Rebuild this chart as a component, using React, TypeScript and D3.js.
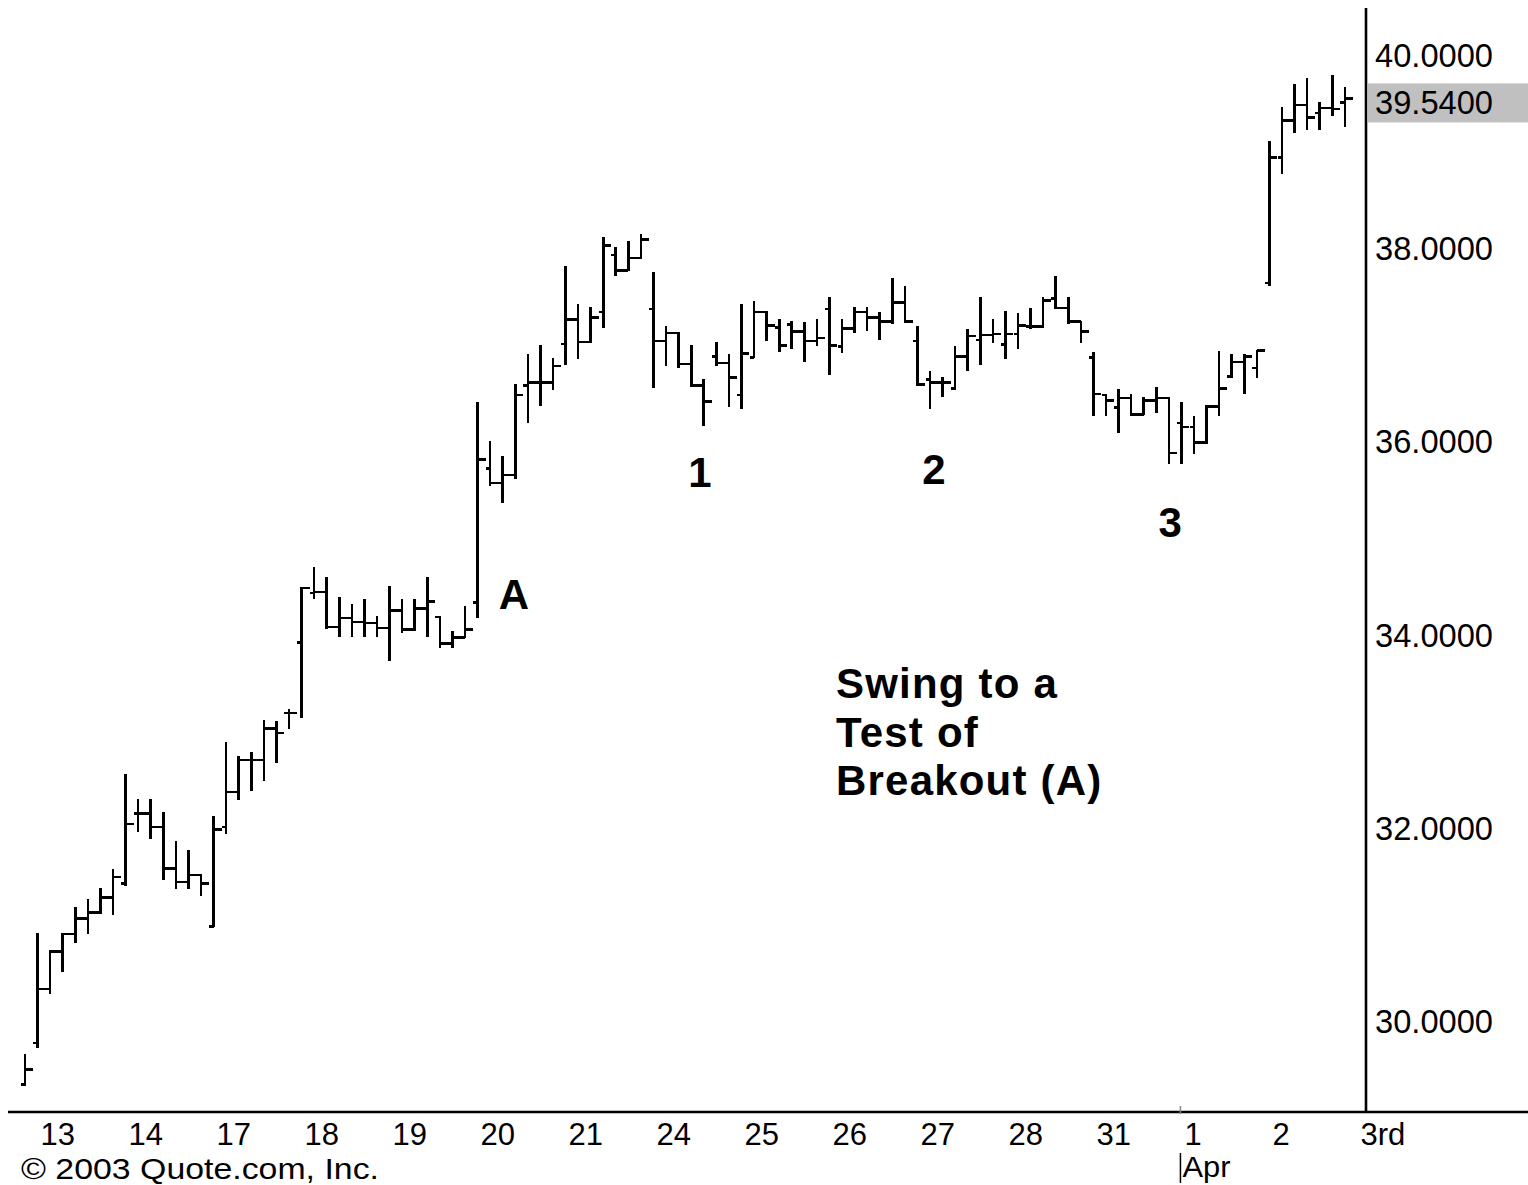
import React from "react";
import * as d3 from "d3";

// Hourly OHLC bars (prices)
const opens = [
  29.33, 29.76, 30.32, 30.71, 30.89, 31.05, 31.11, 31.27, 31.41, 32.14, 32.14, 32.0, 31.57, 31.43, 31.5,
  30.97, 32.0, 32.36, 32.69, 32.69, 33.02, 33.18, 33.91, 34.42, 34.43, 34.07, 34.16, 34.12, 34.11,
  34.06, 34.24, 34.04, 34.26, 34.17, 33.9, 33.96, 34.32, 35.71, 35.56, 35.64, 36.57, 36.6, 36.6,
  37.0, 37.25, 37.02, 37.33, 37.92, 37.76, 37.89, 37.36, 37.03, 37.11, 36.79, 36.57, 36.87, 36.8,
  36.47, 36.86, 37.33, 37.17, 37.2, 37.13, 37.03, 37.36, 36.97, 37.16, 37.33, 37.27, 37.23, 37.43,
  37.03, 36.63, 36.6, 36.54, 36.87, 37.04, 37.09, 36.99, 37.1, 37.18, 37.18, 37.47, 37.37, 37.23,
  36.86, 36.47, 36.34, 36.44, 36.27, 36.41, 36.44, 36.18, 36.14, 35.98, 36.35, 36.66, 36.81, 36.75,
  37.63, 38.93, 39.31, 39.47, 39.39, 39.44, 39.5,
];
const highs = [
  29.64, 30.89, 30.71, 30.89, 31.16, 31.24, 31.36, 31.55, 32.54, 32.28, 32.28, 32.14, 31.84, 31.75, 31.5,
  32.1, 32.87, 32.72, 32.76, 33.1, 33.09, 33.21, 34.47, 34.68, 34.58, 34.37, 34.3, 34.35, 34.17,
  34.48, 34.35, 34.35, 34.58, 34.17, 34.02, 34.28, 36.39, 35.98, 35.83, 36.57, 36.88, 36.98, 36.84,
  37.8, 37.4, 37.37, 38.1, 37.99, 38.05, 38.13, 37.73, 37.17, 37.11, 36.98, 36.63, 37.01, 36.88,
  37.4, 37.43, 37.33, 37.25, 37.23, 37.22, 37.25, 37.47, 37.25, 37.37, 37.37, 37.32, 37.67, 37.59,
  37.17, 36.71, 36.65, 36.97, 37.14, 37.47, 37.25, 37.33, 37.31, 37.36, 37.47, 37.69, 37.47, 37.23,
  36.9, 36.47, 36.52, 36.47, 36.44, 36.54, 36.44, 36.39, 36.24, 36.36, 36.91, 36.88, 36.88, 36.93,
  39.09, 39.44, 39.68, 39.74, 39.49, 39.77, 39.65,
];
const lows = [
  29.33, 29.72, 30.28, 30.51, 30.81, 30.9, 31.11, 31.1, 31.4, 31.96, 31.88, 31.46, 31.37, 31.37, 31.29,
  30.97, 31.94, 32.29, 32.38, 32.48, 32.67, 33.02, 33.14, 34.37, 34.06, 33.97, 33.97, 33.97, 33.98,
  33.73, 34.02, 34.04, 33.97, 33.86, 33.86, 33.96, 34.17, 35.54, 35.36, 35.61, 36.19, 36.37, 36.53,
  36.79, 36.85, 37.02, 37.17, 37.71, 37.76, 37.89, 36.55, 36.78, 36.76, 36.56, 36.16, 36.78, 36.36,
  36.34, 36.86, 37.04, 36.93, 36.96, 36.82, 36.99, 36.69, 36.92, 37.12, 37.14, 37.05, 37.22, 37.23,
  36.57, 36.34, 36.46, 36.53, 36.73, 36.79, 37.02, 36.85, 36.96, 37.16, 37.17, 37.37, 37.22, 37.02,
  36.26, 36.26, 36.09, 36.26, 36.27, 36.29, 35.77, 35.77, 35.87, 35.97, 36.26, 36.66, 36.49, 36.66,
  37.61, 38.77, 39.19, 39.22, 39.22, 39.37, 39.25,
];
const closes = [
  29.49, 30.32, 30.71, 30.89, 31.05, 31.11, 31.27, 31.48, 32.03, 32.14, 32.0, 31.57, 31.43, 31.5, 31.41,
  31.97, 32.36, 32.69, 32.69, 33.02, 32.97, 33.18, 34.47, 34.43, 34.07, 34.16, 34.12, 34.11, 34.06,
  34.24, 34.04, 34.26, 34.33, 33.9, 33.96, 34.04, 35.8, 35.56, 35.64, 36.47, 36.6, 36.6, 36.77,
  37.25, 37.02, 37.27, 38.02, 37.76, 37.89, 38.08, 37.03, 37.11, 36.79, 36.57, 36.4, 36.8, 36.65,
  36.9, 37.33, 37.19, 36.98, 37.13, 37.03, 37.06, 36.98, 37.16, 37.33, 37.27, 37.23, 37.43, 37.23,
  36.58, 36.6, 36.6, 36.87, 37.08, 37.09, 37.1, 37.1, 37.19, 37.18, 37.45, 37.37, 37.23, 37.13,
  36.48, 36.41, 36.44, 36.27, 36.41, 36.44, 35.87, 36.14, 35.98, 36.35, 36.54, 36.81, 36.87, 36.93,
  38.93, 39.31, 39.47, 39.34, 39.44, 39.43, 39.54,
];

// Session labels and the bar index at which each session starts
const dayLabels = ["13", "14", "17", "18", "19", "20", "21", "24", "25", "26", "27", "28", "31", "1", "2", "3rd"];
const dayStarts = [1, 8, 15, 22, 29, 36, 43, 50, 57, 64, 71, 78, 85, 92, 99, 106];

const priceTicks = [30, 32, 34, 36, 38, 40];
const lastPrice = 39.54;

const annotations = [
  { text: "A", bar: 38.9, price: 34.25 },
  { text: "1", bar: 53.7, price: 35.52 },
  { text: "2", bar: 72.3, price: 35.55 },
  { text: "3", bar: 91.1, price: 35.0 },
];
const noteLines = ["Swing to a", "Test of", "Breakout (A)"];

const W = 1528;
const H = 1185;

export default function App() {
  const x = d3.scaleLinear().domain([0, 105]).range([25, 25 + 12.57 * 105]);
  const y = d3.scaleLinear().domain([30, 40]).range([1020, 54]);
  const axisFont = "'Liberation Sans', Arial, sans-serif";
  const n = opens.length;
  const bars = d3.range(n).map((i) => ({
    x: x(i),
    o: y(opens[i]),
    h: y(highs[i]),
    l: y(lows[i]),
    c: y(closes[i]),
  }));
  const lastBarLabel = y(lastPrice);
  return (
    <svg
      width={W}
      height={H}
      style={{ position: "absolute", left: 0, top: 0, background: "#fff" }}
    >
      <rect x={0} y={0} width={W} height={H} fill="#fff" />
      {/* bars */}
      <g stroke="#000" strokeWidth={2.6} shapeRendering="crispEdges">
        {bars.map((b, i) => (
          <g key={i}>
            <line x1={b.x} x2={b.x} y1={b.h - 1} y2={b.l + 1} />
            <line x1={b.x - 4.5} x2={b.x} y1={b.o} y2={b.o} />
            <line x1={b.x} x2={b.x + 8} y1={b.c} y2={b.c} />
          </g>
        ))}
      </g>
      {/* axes */}
      <line x1={1366} x2={1366} y1={8} y2={1112} stroke="#000" strokeWidth={2.6} />
      <line x1={8} x2={W} y1={1112} y2={1112} stroke="#000" strokeWidth={2.6} />
      <rect x={1368} y={lastBarLabel - 15} width={160} height={39} fill="#c0c0c0" />
      {/* price labels */}
      <g fontFamily={axisFont} fontSize={34} fill="#000">
        {priceTicks.map((p) => (
          <text
            key={p}
            x={1375}
            y={y(p) + 13}
            textLength={118}
            lengthAdjust="spacingAndGlyphs"
          >
            {d3.format(".4f")(p)}
          </text>
        ))}
        <text
          x={1375}
          y={lastBarLabel + 16}
          textLength={118}
          lengthAdjust="spacingAndGlyphs"
        >
          {d3.format(".4f")(lastPrice)}
        </text>
      </g>
      {/* date labels */}
      <g fontFamily={axisFont} fontSize={31} fill="#000">
        {dayLabels.map((d, i) => (
          <text key={d + i} x={x(dayStarts[i]) + 3} y={1145}>
            {d}
          </text>
        ))}
      </g>
      <g fontFamily={axisFont} fontSize={30} fill="#000">
        <line x1={x(92) - 1} x2={x(92) - 1} y1={1153} y2={1183} stroke="#000" strokeWidth={1.5} />
        <line x1={x(92) - 1} x2={x(92) - 1} y1={1106} y2={1114} stroke="#888" strokeWidth={1.5} />
        <text x={x(92) + 1} y={1177} textLength={48} lengthAdjust="spacingAndGlyphs">Apr</text>
        <text x={21} y={1179} textLength={358} lengthAdjust="spacingAndGlyphs">
          © 2003 Quote.com, Inc.
        </text>
      </g>
      {/* annotations */}
      <g fontFamily={axisFont} fontSize={42} fontWeight="bold" fill="#000">
        {annotations.map((a) => (
          <text key={a.text} x={x(a.bar)} y={y(a.price)} textAnchor="middle">
            {a.text}
          </text>
        ))}
        {noteLines.map((t, i) => (
          <text key={t} x={836} y={698 + i * 48.5} letterSpacing={1.2}>
            {t}
          </text>
        ))}
      </g>
    </svg>
  );
}
